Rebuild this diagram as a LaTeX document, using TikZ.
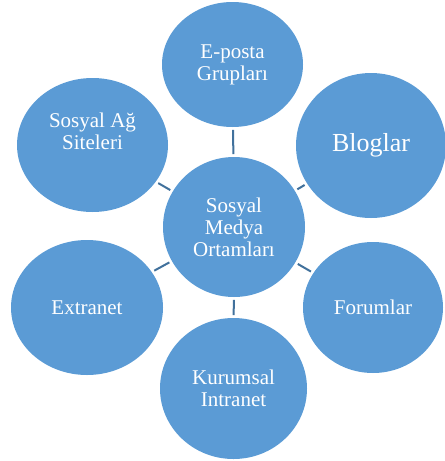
\documentclass[tikz,border=0pt]{standalone}
\usepackage{fontspec}
\setmainfont{Liberation Serif}
\usetikzlibrary{shapes.geometric}

\definecolor{bubblefill}{RGB}{91,155,213}
\definecolor{linkcol}{RGB}{65,113,156}

\begin{document}
\begin{tikzpicture}[x=0.75pt,y=0.75pt,yscale=-1,xscale=1,
  bubble/.style={ellipse, fill=bubblefill, inner sep=0pt, text=white, align=center,
    font=\fontsize{15.75}{16.5}\selectfont},
  link/.style={draw=linkcol, line width=1.5pt, shorten <=2pt, shorten >=2pt}]
%set diagram size to 444 x 461
\useasboundingbox (0,0) rectangle (444,461);

%Shape: Ellipse [hub]
\node [bubble, minimum width=106.5pt, minimum height=105pt] (hub) at (234,227) {Sosyal\\Medya\\Ortamları};
%Shape: Ellipse [top]
\node [bubble, minimum width=105.75pt, minimum height=93.75pt] (eposta) at (232.5,64.5) {E-posta\\Grupları};
%Shape: Ellipse [top right]
\node [bubble, minimum width=112.5pt, minimum height=108.75pt, font=\fontsize{19.5}{20}\selectfont] (blog) at (371,145.5) {Bloglar};
%Shape: Ellipse [top left]
\node [bubble, minimum width=113.25pt, minimum height=100.5pt, text depth=20pt] (sosyalag) at (92.5,145) {Sosyal Ağ\\Siteleri};
%Shape: Ellipse [bottom left]
\node [bubble, minimum width=114pt, minimum height=101.25pt] (extranet) at (87,307.5) {Extranet};
%Shape: Ellipse [bottom right]
\node [bubble, minimum width=105pt, minimum height=98.25pt] (forum) at (373,307.5) {Forumlar};
%Shape: Ellipse [bottom]
\node [bubble, minimum width=110.25pt, minimum height=105.75pt] (intranet) at (233.5,388.5) {Kurumsal\\Intranet};

%Straight Lines
\draw [link] (hub) -- (eposta);
\draw [link] (hub) -- (blog);
\draw [link] (hub) -- (sosyalag);
\draw [link] (hub) -- (extranet);
\draw [link] (hub) -- (forum);
\draw [link] (hub) -- (intranet);

\end{tikzpicture}
\end{document}
